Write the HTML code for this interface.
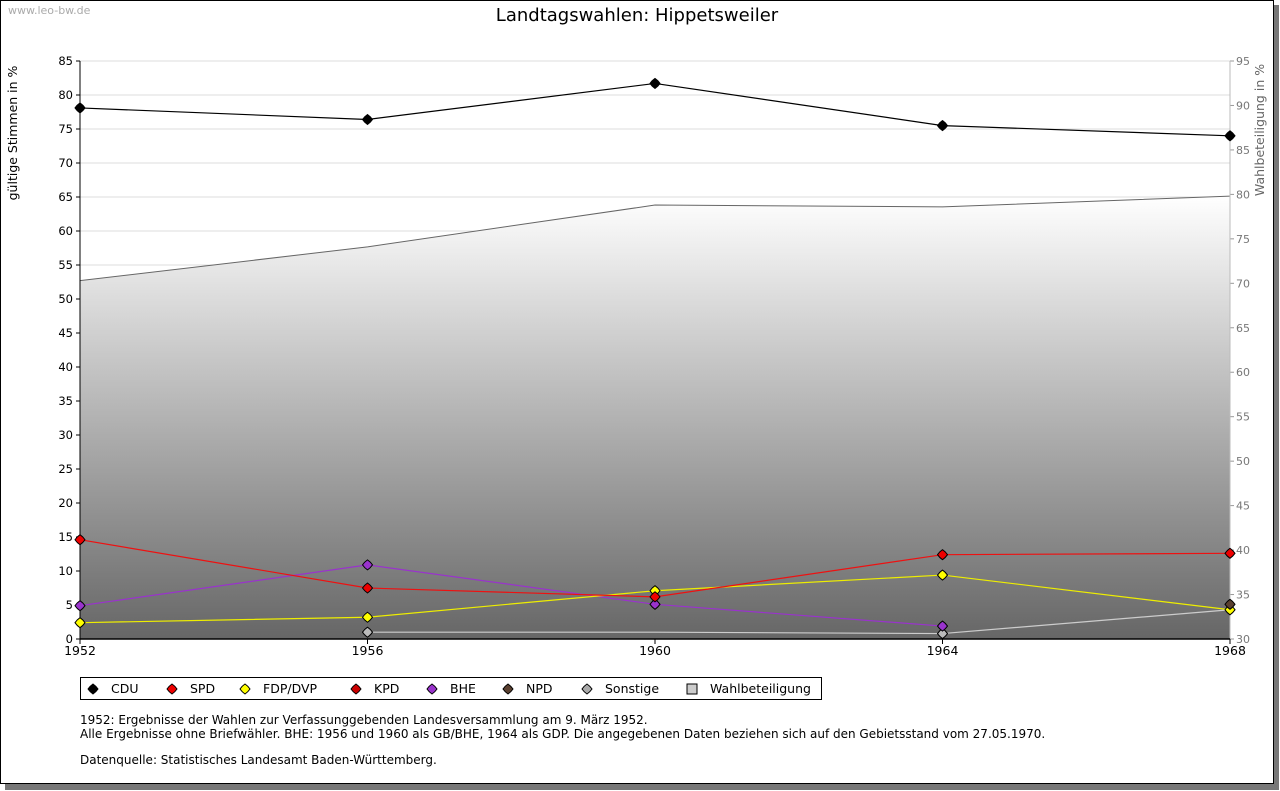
<!DOCTYPE html>
<html><head><meta charset="utf-8"><style>
body{margin:0;background:#fff;font-family:"DejaVu Sans","Liberation Sans",sans-serif;}
#wrap{position:relative;width:1280px;height:791px;overflow:hidden}
</style></head><body>
<div id="wrap">
<svg id="chart" width="1280" height="791" xmlns="http://www.w3.org/2000/svg" font-family="DejaVu Sans, Liberation Sans, sans-serif">
<defs>
<linearGradient id="g" x1="0" y1="0" x2="0" y2="1"><stop offset="0" stop-color="#ffffff"/><stop offset="1" stop-color="#666666"/></linearGradient>
</defs>
<rect x="5" y="5" width="1274" height="785" fill="#777"/>
<rect x="0.5" y="0.5" width="1273" height="783" fill="#fff" stroke="#000"/>
<text x="8" y="14" font-size="11" fill="#aaa">www.leo-bw.de</text>
<text x="637" y="21" font-size="18" text-anchor="middle" fill="#000">Landtagswahlen: Hippetsweiler</text>
<g id="grid"></g><g id="area"></g><g id="axes"></g><g id="series"></g>
<text transform="translate(17,133) rotate(-90)" font-size="12.5" text-anchor="middle">gültige Stimmen in %</text>
<text transform="translate(1264,130) rotate(-90)" font-size="12.5" text-anchor="middle" fill="#666">Wahlbeteiligung in %</text>
<rect x="80.5" y="677.5" width="741" height="22" fill="#fff" stroke="#000"/>
<g id="legend"></g>
<g font-size="12" fill="#000">
<text x="80" y="724">1952: Ergebnisse der Wahlen zur Verfassunggebenden Landesversammlung am 9. März 1952.</text>
<text x="80" y="738">Alle Ergebnisse ohne Briefwähler. BHE: 1956 und 1960 als GB/BHE, 1964 als GDP. Die angegebenen Daten beziehen sich auf den Gebietsstand vom 27.05.1970.</text>
<text x="80" y="764">Datenquelle: Statistisches Landesamt Baden-Württemberg.</text>
</g>
</svg>
</div>
<script>
const years=[1952,1956,1960,1964,1968];
const cdu=[78.1,76.4,81.7,75.5,74.0];
const spd=[14.6,7.5,6.2,12.4,12.6];
const fdp=[2.4,3.2,7.1,9.4,4.3];
const bhe=[4.9,10.9,5.1,1.9,null];
const npd=[null,null,null,null,5.1];
const sonstige=[null,1.0,null,0.8,4.3];
const sonstigeLine=[null,1.0,1.0,0.8,4.3];
const turnout=[70.3,74.1,78.8,78.6,79.8];
const leftTicks=[0,5,10,15,20,25,30,35,40,45,50,55,60,65,70,75,80,85];
const rightTicks=[30,35,40,45,50,55,60,65,70,75,80,85,90,95];
const NS='http://www.w3.org/2000/svg';
const X0=80,X1=1230,YB=639,YT=61;
const xs=y=>X0+(y-1952)/(1968-1952)*(X1-X0);
const yl=v=>YB-v/85*(YB-YT);
const yr=v=>YB-(v-30)/65*(YB-YT);
function mk(tag,attrs,parent){const e=document.createElementNS(NS,tag);for(const k in attrs)e.setAttribute(k,attrs[k]);document.getElementById(parent).appendChild(e);return e;}
leftTicks.forEach(t=>{
 const y=yl(t);
 if(t>0){const l=mk('line',{x1:X0,x2:X1,y1:y,y2:y,stroke:'#ddd'},'grid');}
 const tk=mk('line',{x1:X0-4,x2:X0,y1:y,y2:y,stroke:'#000'},'axes');
 const tx=mk('text',{x:X0-7,y:y+4,'font-size':11.5,'text-anchor':'end'},'axes');tx.textContent=t;
 
});
rightTicks.forEach(t=>{
 const y=yr(t);
 const tk=mk('line',{x1:X1,x2:X1+4,y1:y,y2:y,stroke:'#999'},'axes');
 const tx=mk('text',{x:X1+6,y:y+4,'font-size':11,fill:'#777'},'axes');tx.textContent=t;
 
});
let d='M'+X0+','+YB;years.forEach((yy,i)=>{d+=' L'+xs(yy)+','+yr(turnout[i]);});d+=' L'+X1+','+YB+' Z';
const ar=mk('path',{d:d,fill:'url(#g)'},'area');
const al=mk('polyline',{points:years.map((yy,i)=>xs(yy)+','+yr(turnout[i])).join(' '),fill:'none',stroke:'#666'},'area');

const ax=mk('line',{x1:X0,x2:X0,y1:YT,y2:YB,stroke:'#000'},'axes');
const ax2=mk('line',{x1:X1,x2:X1,y1:YT,y2:YB,stroke:'#bbb'},'axes');
const bx=mk('line',{x1:X0,x2:X1,y1:YB,y2:YB,stroke:'#000','stroke-width':1.5},'axes');
years.forEach(yy=>{
 const tk=mk('line',{x1:xs(yy),x2:xs(yy),y1:YB,y2:YB+5,stroke:'#000'},'axes');
 const tx=mk('text',{x:xs(yy),y:YB+16,'font-size':12.5,'text-anchor':'middle'},'axes');tx.textContent=yy;
 
});
function diamond(cx,cy,fill,parent){const s=5;return mk('path',{d:`M${cx},${cy-s} Q${cx+s*0.6},${cy-s*0.6} ${cx+s},${cy} Q${cx+s*0.6},${cy+s*0.6} ${cx},${cy+s} Q${cx-s*0.6},${cy+s*0.6} ${cx-s},${cy} Q${cx-s*0.6},${cy-s*0.6} ${cx},${cy-s} Z`,fill:fill,stroke:'#000','stroke-width':1},parent);}
function series(name,vals,lineVals,color,lineColor){
 const pts=[];years.forEach((yy,i)=>{if(lineVals[i]!=null)pts.push(xs(yy)+','+yl(lineVals[i]));});
 if(pts.length>1){const l=mk('polyline',{points:pts.join(' '),fill:'none',stroke:lineColor,'stroke-width':1.2},'series');}
 years.forEach((yy,i)=>{if(vals[i]!=null){const m=diamond(xs(yy),yl(vals[i]),color,'series');}});
}
series('sonstige',sonstige,sonstigeLine,'#bbb','#ccc');
series('bhe',bhe,bhe,'#9933cc','#9933cc');
series('fdp',fdp,fdp,'#ffff00','#eeee00');
series('spd',spd,spd,'#ee0000','#ee1111');
series('npd',npd,npd,'#5a4030','#5a4030');
series('cdu',cdu,cdu,'#000','#000');
const legNames=['CDU','SPD','FDP/DVP','KPD','BHE','NPD','Sonstige','Wahlbeteiligung'];
const legColors=['#000','#ee0000','#ffff00','#cc0000','#9933cc','#5a4030','#aaa','#ccc'];
const legX=[93,172,245,356,432,508,587,692];
legNames.forEach((n,i)=>{
 let m;
 if(i<7){m=diamond(legX[i],689,legColors[i],'legend');}
 else{m=mk('rect',{x:legX[i]-5,y:684,width:10,height:10,fill:legColors[i],stroke:'#000'},'legend');}
 
 const t=mk('text',{x:legX[i]+18,y:693,'font-size':12.5},'legend');t.textContent=n;
 
});
</script>
</body></html>
